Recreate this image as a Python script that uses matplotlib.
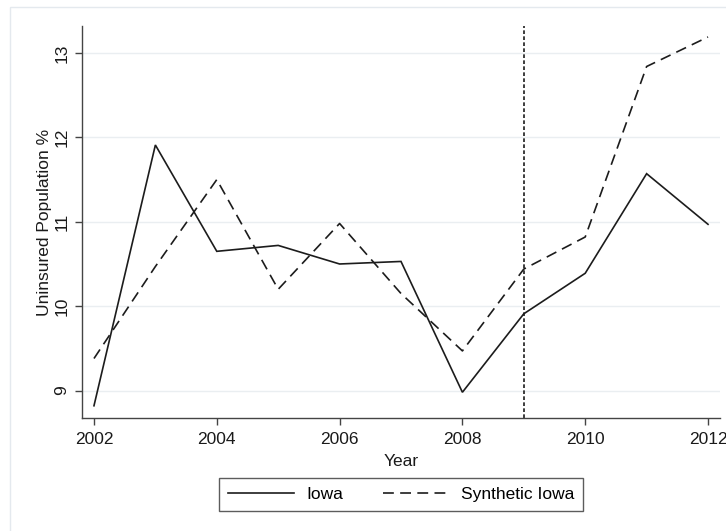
import matplotlib.pyplot as plt
from matplotlib.lines import Line2D
from matplotlib.patches import Rectangle

# uninsured share by year, Iowa vs. its synthetic control
years = [2002, 2003, 2004, 2005, 2006, 2007, 2008, 2009, 2010, 2011, 2012]
iowa = [8.82, 11.91, 10.65, 10.72, 10.50, 10.53, 8.98, 9.91, 10.39, 11.57, 10.97]
synthetic = [9.38, 10.47, 11.50, 10.20, 10.98, 10.15, 9.47, 10.44, 10.82, 12.84, 13.19]
treat_year = 2009
xticks = [2002, 2004, 2006, 2008, 2010, 2012]
yticks = [9, 10, 11, 12, 13]

plt.rcParams['font.family'] = ['Liberation Sans', 'DejaVu Sans']

fig = plt.figure(figsize=(7.26, 5.31), dpi=100)
fig.patch.set_facecolor('white')

# light outer frame of the graph region
fig.patches.append(Rectangle((10 / 726, -0.05), 1.2, 1 - 7 / 531 + 0.05,
                             transform=fig.transFigure, fill=False,
                             edgecolor='#e4e9ee', linewidth=1.0, zorder=0))

ax = fig.add_axes([82 / 726, 1 - 418 / 531, (720 - 82) / 726, (418 - 26) / 531])
ax.set_facecolor('white')

line_color = '#1c1c1c'
ax.plot(years, iowa, color=line_color, lw=1.2, solid_joinstyle='miter', zorder=3)
ax.plot(years, synthetic, color=line_color, lw=1.2, dashes=(6.5, 3.8), zorder=3)
ax.axvline(treat_year, color=line_color, lw=1.2, dashes=(2.2, 1.4), zorder=2)

ax.set_xlim(2001.805, 2012.195)
ax.set_ylim(8.675, 13.32)
ax.set_xticks(xticks)
ax.set_yticks(yticks)
ax.set_yticklabels([str(v) for v in yticks], rotation=90, va='center')

for v in yticks:
    ax.axhline(v, color='#eaeef1', lw=1.0, zorder=1)

for side in ['top', 'right']:
    ax.spines[side].set_visible(False)
for side in ['left', 'bottom']:
    ax.spines[side].set_color('#444444')
    ax.spines[side].set_linewidth(1.0)

ax.tick_params(axis='both', direction='out', length=5, width=1.0,
               color='#444444', labelsize=12.5, labelcolor='#1a1a1a')
ax.tick_params(axis='x', pad=5)
ax.tick_params(axis='y', pad=4)

ax.set_xlabel('Year', fontsize=12.5, color='#1a1a1a')
ax.xaxis.set_label_coords(0.5, -0.093)
ax.set_ylabel('Uninsured Population %', fontsize=12.5, color='#1a1a1a')
ax.yaxis.set_label_coords(-0.047, 0.5)

handles = [Line2D([], [], color=line_color, lw=1.2),
           Line2D([], [], color=line_color, lw=1.2, dashes=(6.5, 3.8))]
leg = fig.legend(handles, ['Iowa', 'Synthetic Iowa'], ncol=2, loc='center',
                 bbox_to_anchor=(401 / 726, 1 - 494.5 / 531), fontsize=12.5,
                 frameon=True, fancybox=False, handlelength=3.8,
                 handletextpad=0.7, columnspacing=2.3, borderpad=0.5)
leg.get_frame().set_edgecolor('#333333')
leg.get_frame().set_linewidth(1.0)

fig.savefig('out.png', dpi=100, facecolor='white')
